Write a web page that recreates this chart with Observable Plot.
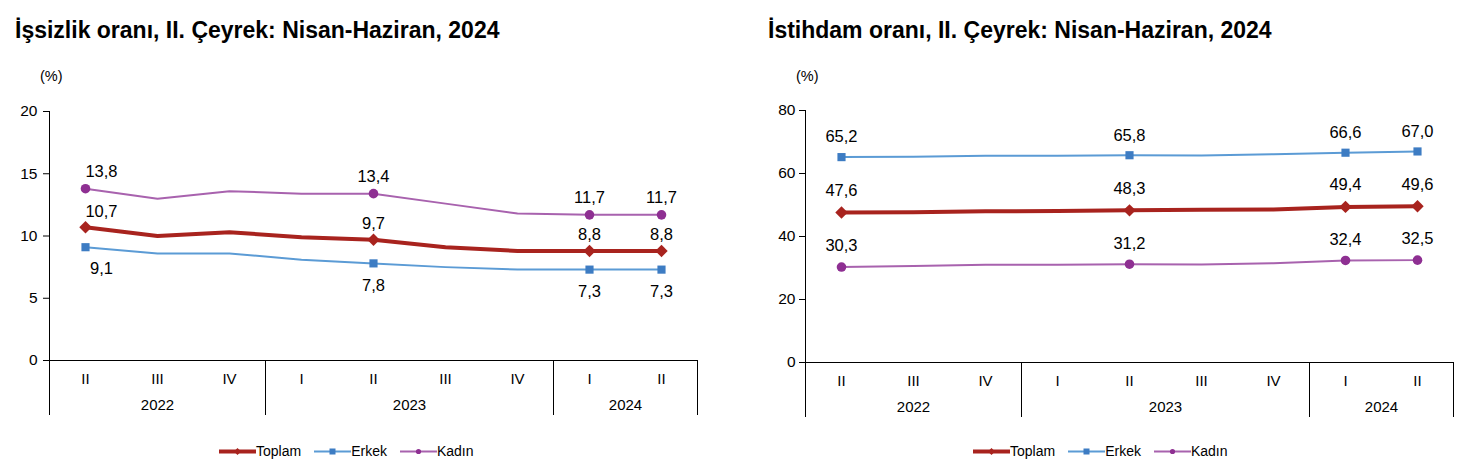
<!DOCTYPE html>
<html><head><meta charset="utf-8">
<script src="https://cdn.jsdelivr.net/npm/d3@7"></script>
<script src="https://cdn.jsdelivr.net/npm/@observablehq/plot@0.6"></script>
<style>
body{margin:0;background:#fff;font-family:"Liberation Sans",Arial,sans-serif;color:#000}
#root{position:relative;width:1478px;height:476px;overflow:hidden}
.panel{position:absolute;top:0;width:739px;height:476px}
.title{position:absolute;top:16px;font-weight:bold;font-size:23px;white-space:nowrap;line-height:28px}
.unit{position:absolute;top:68px;font-size:14.5px}
.chart{position:absolute;top:60px;left:0}
.chart svg g[aria-label^="y-axis"] text{font-size:15.5px !important}
.chart svg g[aria-label^="x-axis"] text{font-size:15px !important}
.legend{position:absolute;top:443px;display:flex;gap:13px;font-size:14px;align-items:center;white-space:nowrap}
.legend .item{display:flex;align-items:center}
.legend svg{display:block}
</style>
</head><body>
<div id="root"></div>
<script>
// ---- data ----
const quarters = ["II","III","IV","I","II","III","IV","I","II"];
const quarterYears = ["2022","2022","2022","2023","2023","2023","2023","2024","2024"];
const seriesNames = ["Toplam","Erkek","Kadın"];
const labeledIdx = [0,4,7,8];

const unempToplam = [10.7,10.0,10.3,9.9,9.7,9.1,8.8,8.8,8.8];
const unempErkek  = [9.1,8.6,8.6,8.1,7.8,7.5,7.3,7.3,7.3];
const unempKadin  = [13.8,13.0,13.6,13.4,13.4,12.6,11.8,11.7,11.7];

const empToplam = [47.6,47.7,48.0,48.1,48.3,48.5,48.6,49.4,49.6];
const empErkek  = [65.2,65.3,65.6,65.6,65.8,65.7,66.1,66.6,67.0];
const empKadin  = [30.3,30.6,31.0,31.0,31.2,31.1,31.5,32.4,32.5];

const unempTicks = [0,5,10,15,20];
const empTicks = [0,20,40,60,80];

const titles = ["İşsizlik oranı, II. Çeyrek: Nisan-Haziran, 2024","İstihdam oranı, II. Çeyrek: Nisan-Haziran, 2024"];

// ---- styles ----
const seriesStyle = {
  "Toplam": {line:"#A8231E", marker:"#A8231E", width:4, symbol:"diamond2", r:5.6},
  "Erkek":  {line:"#5B9BD5", marker:"#3D7CC3", width:2, symbol:"square", r:4.6},
  "Kadın":  {line:"#A862AE", marker:"#8E2F92", width:2, symbol:"circle", r:4.8}
};

const years = [...new Set(quarterYears)];
const yearCenters = years.map(y => d3.mean(quarterYears.map((q,i)=>q===y?i:null).filter(v=>v!==null)));
const yearAt = new Map(yearCenters.map((c,k)=>[c, years[k]]));
const separators = [-0.5];
quarterYears.forEach((y,i)=>{ if(i>0 && quarterYears[i-1]!==y) separators.push(i-0.5); });
separators.push(quarters.length-0.5);

const fmt = v => v.toFixed(1).replace(".", ",");

function makeChart(cfg){
  const vals = {"Toplam":cfg.toplam,"Erkek":cfg.erkek,"Kadın":cfg.kadin};
  const marks = [
    Plot.axisY({ticks: cfg.ticks, tickSize: 6, tickPadding: cfg.tickPad, label: null, tickFormat: d=>String(d)}),
    Plot.axisX({ticks: d3.range(quarters.length), tickSize: 0, tickPadding: 13, tickFormat: i=>quarters[i], label: null}),
    Plot.axisX({ticks: yearCenters, tickSize: 0, tickPadding: 39, tickFormat: d=>yearAt.get(d), label: null}),
    Plot.axisX({ticks: separators, tickSize: 55, tickFormat: ()=>"", label: null}),
    Plot.ruleX([-0.5], {stroke:"#000"}),
    Plot.ruleY([0], {stroke:"#000"})
  ];
  for (const s of seriesNames){
    const st = seriesStyle[s];
    const rows = vals[s].map((v,i)=>({i, v}));
    const lab = rows.filter(d=>labeledIdx.includes(d.i));
    marks.push(Plot.line(rows, {x:"i", y:"v", stroke: st.line, strokeWidth: st.width}));
    marks.push(Plot.dot(lab, {x:"i", y:"v", symbol: st.symbol, r: st.r, fill: st.marker, stroke: "none"}));
    const dy = cfg.dy[s];
    const first = lab.filter(d=>d.i===0), rest = lab.filter(d=>d.i!==0);
    marks.push(Plot.text(first, {x:"i", y:"v", text: d=>fmt(d.v), dy, dx: cfg.firstDx, fontSize: 16.5, fill:"#000"}));
    marks.push(Plot.text(rest, {x:"i", y:"v", text: d=>fmt(d.v), dy, fontSize: 16.5, fill:"#000"}));
  }
  return Plot.plot({
    width: 739, height: 370,
    marginLeft: cfg.ml, marginRight: cfg.mr, marginTop: cfg.mt, marginBottom: cfg.mb,
    style: {fontFamily: "'Liberation Sans', Arial, sans-serif", fontSize: "15px", color: "#000", background: "transparent", overflow: "visible"},
    x: {type: "linear", domain: [-0.5, quarters.length-0.5]},
    y: {domain: [cfg.ticks[0], cfg.ticks[cfg.ticks.length-1]]},
    marks
  });
}

function legend(){
  const wrap = document.createElement("div");
  wrap.className = "legend";
  for (const s of seriesNames){
    const st = seriesStyle[s];
    const item = document.createElement("div");
    item.className = "item";
    let marker;
    if (st.symbol === "square") marker = `<rect x="15.5" y="2.5" width="6" height="6" fill="${st.marker}"/>`;
    else if (st.symbol === "circle") marker = `<circle cx="18.5" cy="5.5" r="2.6" fill="${st.marker}"/>`;
    else marker = `<path d="M18.5 2 L22 5.5 L18.5 9 L15 5.5 Z" fill="${st.marker}"/>`;
    item.innerHTML = `<svg width="37" height="11"><line x1="0" x2="37" y1="5.5" y2="5.5" stroke="${st.line}" stroke-width="${st.width}"/>${marker}</svg><span>${s}</span>`;
    wrap.appendChild(item);
  }
  return wrap;
}

const root = document.getElementById("root");
const cfgs = [
  {left:0, toplam:unempToplam, erkek:unempErkek, kadin:unempKadin, ticks:unempTicks, ml:49, mr:42, mt:51, mb:70, tickPad:6,
   dy:{"Toplam":-16,"Erkek":22,"Kadın":-17}, firstDx:16, titleX:15, unitX:40, legendX:219},
  {left:739, toplam:empToplam, erkek:empErkek, kadin:empKadin, ticks:empTicks, ml:66, mr:25, mt:50, mb:68, tickPad:4,
   dy:{"Toplam":-22,"Erkek":-20,"Kadın":-21}, firstDx:0, titleX:29, unitX:57, legendX:234}
];
cfgs.forEach((c,k)=>{
  const p = document.createElement("div");
  p.className = "panel"; p.style.left = c.left+"px";
  const t = document.createElement("div"); t.className="title"; t.style.left=c.titleX+"px"; t.textContent = titles[k];
  const u = document.createElement("div"); u.className="unit"; u.style.left=c.unitX+"px"; u.textContent = "(%)";
  const ch = document.createElement("div"); ch.className="chart"; ch.appendChild(makeChart(c));
  const lg = legend(); lg.style.left = c.legendX+"px";
  p.append(t,u,ch,lg);
  root.appendChild(p);
});
</script>
</body></html>
